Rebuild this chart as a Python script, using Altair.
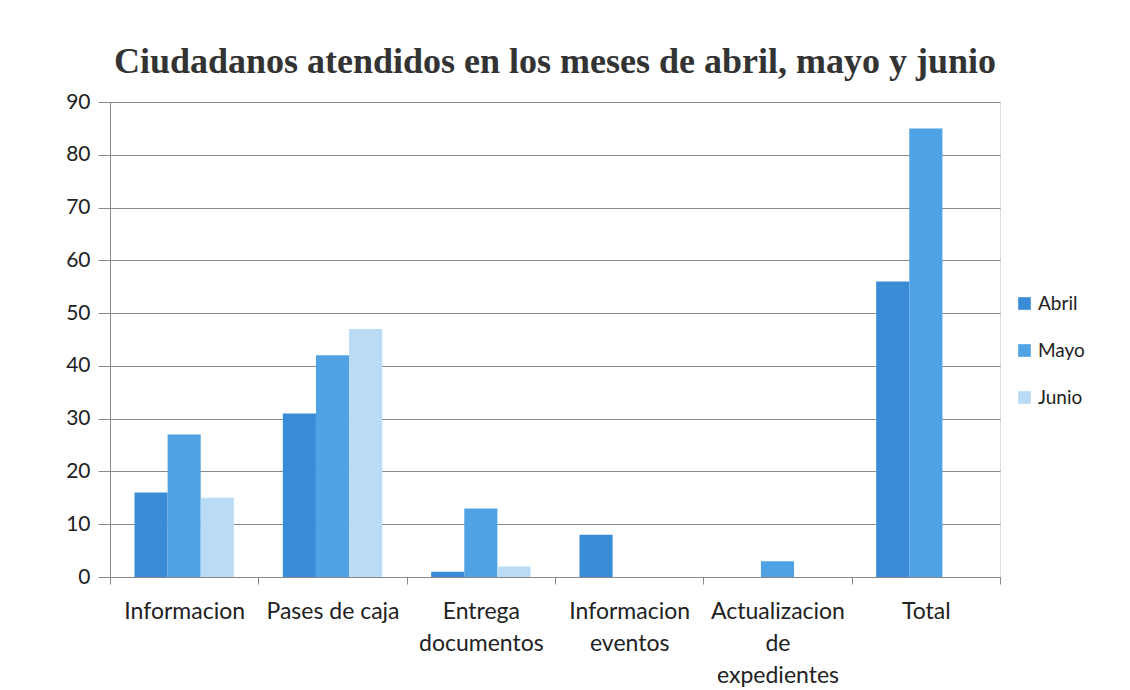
import json
import altair as alt
import pandas as pd

categories = ["Informacion", "Pases de caja", "Entrega documentos",
              "Informacion eventos", "Actualizacion de expedientes", "Total"]
label_lines = [["Informacion"], ["Pases de caja"], ["Entrega", "documentos"],
               ["Informacion", "eventos"], ["Actualizacion", "de", "expedientes"], ["Total"]]
months = ["Abril", "Mayo", "Junio"]
abril = [16, 31, 1, 8, 0, 56]
mayo = [27, 42, 13, 0, 3, 85]
junio = [15, 47, 2, 0, 0, None]
colors = ["#3b8cd6", "#4fa3e4", "#b9dbf6"]
y_ticks = [0, 10, 20, 30, 40, 50, 60, 70, 80, 90]

rows = []
for m, vals in zip(months, [abril, mayo, junio]):
    for c, v in zip(categories, vals):
        if v is not None:
            rows.append({"Categoria": c, "Mes": m, "Valor": v})
df = pd.DataFrame(rows)

label_map = {c: l for c, l in zip(categories, label_lines)}
label_expr = json.dumps(label_map) + "[datum.label]"

chart = alt.Chart(df).mark_bar().encode(
    x=alt.X("Categoria:N", sort=categories, title=None,
            scale=alt.Scale(paddingInner=0, paddingOuter=0),
            axis=alt.Axis(labelAngle=0, labelExpr=label_expr, tickBand="extent",
                          labelFont="Lato", labelFontSize=23, labelColor="#222",
                          labelLineHeight=32, labelPadding=16, tickSize=7,
                          tickColor="#888", domainColor="#888", labelBaseline="top")),
    xOffset=alt.XOffset("Mes:N", sort=months,
                        scale=alt.Scale(paddingInner=0, paddingOuter=0.74)),
    y=alt.Y("Valor:Q", title=None,
            scale=alt.Scale(domain=[0, 90], nice=False),
            axis=alt.Axis(values=y_ticks, labelFont="Lato", labelFontSize=21,
                          labelColor="#222", tickSize=12, tickColor="#888",
                          gridColor="#888", gridWidth=1, domainColor="#888",
                          labelPadding=8)),
    color=alt.Color("Mes:N", sort=months,
                    scale=alt.Scale(domain=months, range=colors),
                    legend=alt.Legend(title=None, orient="none", legendX=905, legendY=192,
                                      symbolType="square", symbolSize=160,
                                      symbolStrokeWidth=0, labelFont="Lato",
                                      labelFontSize=19, labelColor="#222",
                                      rowPadding=27, labelOffset=4)),
).properties(
    width=890, height=475,
    title=alt.TitleParams("Ciudadanos atendidos en los meses de abril, mayo y junio",
                          font="Liberation Serif", fontSize=36, fontWeight="bold",
                          color="#333", anchor="middle", offset=10),
    autosize=alt.AutoSizeParams(type="none"),
    padding={"left": 102, "top": 94, "right": 120, "bottom": 120},
).configure_view(stroke=None).configure(background="white")

chart.save("out.html", embed_options={"renderer": "svg", "actions": False})
